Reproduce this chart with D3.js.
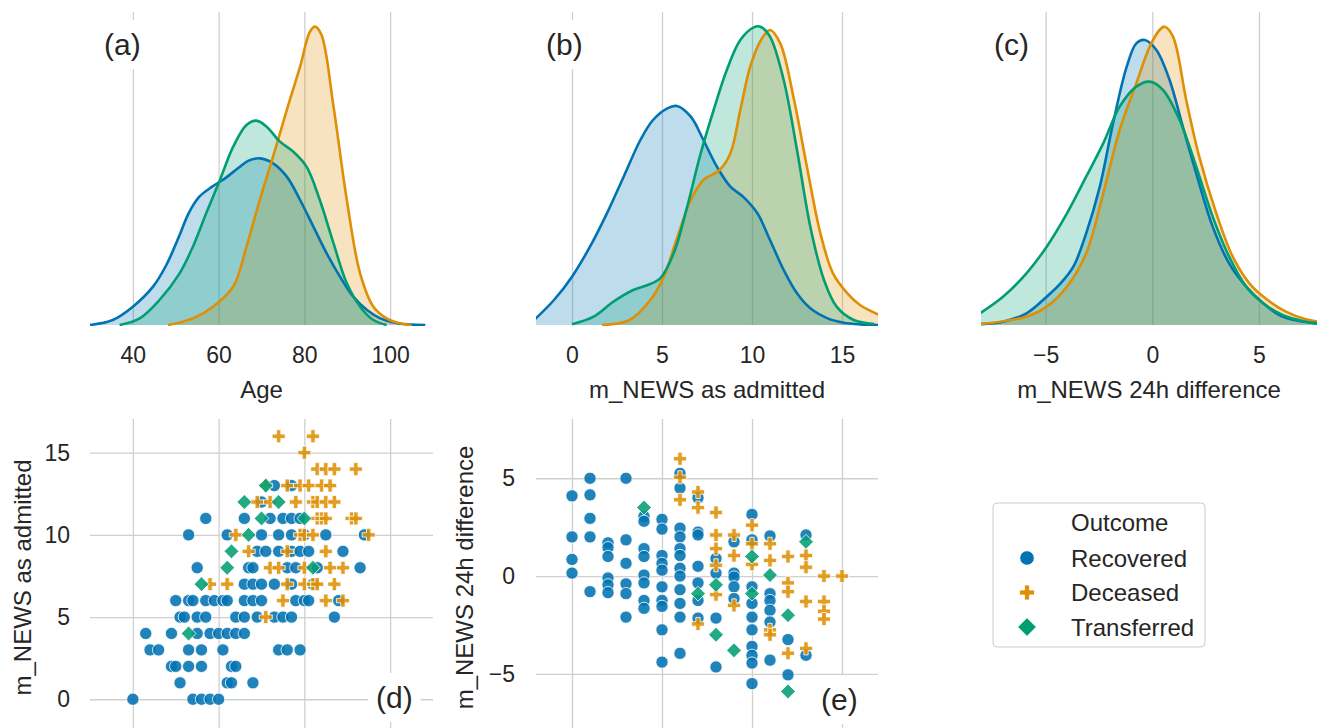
<!DOCTYPE html>
<html>
<head>
<meta charset="utf-8">
<script src="https://cdn.jsdelivr.net/npm/d3@7"></script>
<style>
  body { margin: 0; background: #fff; }
  text { font-family: "Liberation Sans", Arial, sans-serif; fill: #262626; }
</style>
</head>
<body>
<svg id="chart" width="1317" height="728"></svg>
<script>
// ---- data ----
const outcomes = ['Recovered', 'Deceased', 'Transferred'];

// KDE curves, [value, density]
const ageKdeRecovered = [[30,0],[35.3,0.015],[40,0.055],[44.7,0.115],[47.8,0.18],[50.9,0.27],[53,0.335],[55.5,0.385],[58.5,0.415],[61.5,0.44],[64.5,0.47],[67,0.493],[69.6,0.5],[72.7,0.485],[75.9,0.445],[79,0.375],[82.1,0.295],[85.2,0.215],[88.3,0.145],[91.4,0.085],[94.6,0.045],[97.7,0.02],[101.6,0.005],[108.2,0]];
const ageKdeDeceased = [[48.2,0],[54,0.02],[58.7,0.055],[63.4,0.115],[66.5,0.235],[69.6,0.375],[72.7,0.505],[75.9,0.645],[79,0.775],[81.3,0.88],[82.5,0.895],[84,0.87],[86.8,0.655],[89.9,0.375],[93,0.155],[96.1,0.055],[99.2,0.02],[102.3,0.005],[105,0]];
const ageKdeTransferred = [[36.9,0],[41.6,0.02],[46.2,0.075],[50.9,0.155],[54,0.235],[57.1,0.335],[60.3,0.435],[63.4,0.535],[66.5,0.6],[68.8,0.613],[71.2,0.595],[74.3,0.55],[77.4,0.52],[80.5,0.475],[83.6,0.375],[86.8,0.245],[89.9,0.125],[93,0.055],[96.1,0.015],[99.2,0]];

const newsKdeRecovered = [[-2.3,0.005],[-1,0.075],[0,0.145],[1,0.235],[1.94,0.335],[2.87,0.445],[3.8,0.555],[4.5,0.615],[5.3,0.65],[5.83,0.657],[6.6,0.625],[7.3,0.555],[8.05,0.475],[8.8,0.415],[9.5,0.385],[10.3,0.335],[11,0.255],[11.76,0.165],[12.5,0.095],[13.24,0.05],[14.2,0.02],[15.1,0.007],[16,0.002],[17.2,0]];
const newsKdeDeceased = [[1.67,0],[3.2,0.015],[4.35,0.075],[5.1,0.145],[5.8,0.255],[6.6,0.375],[7.3,0.435],[8.2,0.465],[8.8,0.515],[9.35,0.645],[9.9,0.775],[10.5,0.855],[11,0.885],[11.57,0.845],[12.3,0.685],[13.05,0.475],[13.8,0.275],[14.5,0.155],[15.3,0.095],[16,0.06],[17.2,0.027]];
const newsKdeTransferred = [[0,0.002],[1.2,0.025],[2.3,0.07],[3.4,0.105],[4.2,0.12],[4.9,0.14],[5.65,0.215],[6.4,0.355],[7.1,0.505],[7.87,0.645],[8.6,0.765],[9.35,0.855],[10.1,0.893],[10.46,0.895],[11,0.865],[11.76,0.735],[12.5,0.525],[13.24,0.295],[14,0.135],[14.7,0.055],[15.65,0.015],[16.8,0.003]];

const diffKdeRecovered = [[-8.2,0.002],[-7,0.01],[-5.9,0.035],[-4.95,0.085],[-4.3,0.125],[-3.7,0.175],[-3.1,0.275],[-2.46,0.415],[-1.84,0.605],[-1.2,0.775],[-0.75,0.845],[-0.36,0.855],[0.19,0.825],[0.81,0.735],[1.43,0.595],[2.06,0.455],[2.83,0.295],[3.6,0.185],[4.4,0.115],[5.2,0.065],[6.1,0.025],[7.9,0.003]];
const diffKdeDeceased = [[-8.2,0.002],[-5.9,0.025],[-4.95,0.055],[-4,0.115],[-3.1,0.215],[-2.3,0.395],[-1.53,0.585],[-0.75,0.725],[-0.12,0.835],[0.34,0.885],[0.58,0.895],[0.97,0.865],[1.59,0.675],[2.2,0.505],[3,0.335],[3.77,0.205],[4.55,0.125],[5.3,0.08],[6.26,0.04],[7.2,0.017],[7.9,0.009]];
const diffKdeTransferred = [[-8.2,0.03],[-7,0.085],[-5.9,0.155],[-4.95,0.235],[-4,0.335],[-3.1,0.445],[-2.3,0.545],[-1.53,0.655],[-0.75,0.715],[-0.12,0.73],[0.5,0.705],[1.28,0.615],[2.06,0.475],[2.83,0.325],[3.6,0.205],[4.4,0.115],[5.2,0.065],[6.1,0.03],[7.2,0.01],[7.9,0.005]];

// scatter (d): [age, m_NEWS as admitted]
const ageNewsRecovered = [[73,13],[77,13],[70,12],
  [57,11],[66,11],[72,11],[75,11],[77,11],[79,11],
  [53,10],[62,10],[70,10],[74,10],[77,10],[80,10],[85,10],[94,10],
  [69,9],[71,9],[74,9],[77,9],[79,9],[81,9],[89,9],
  [55,8],[67,8],[68,8],[76,8],[78,8],[83,8],[93,8],
  [66,7],[68,7],[70,7],[73,7],[77,7],[82,7],
  [50,6],[53,6],[54,6],[57,6],[59,6],[61,6],[62,6],[66,6],[68,6],[70,6],[78,6],[80,6],[81,6],[88,6],
  [51,5],[52,5],[55,5],[57,5],[64,5],[66,5],[69,5],[73,5],[75,5],[77,5],[87,5],
  [43,4],[49,4],[55,4],[58,4],[60,4],[62,4],[64,4],[66,4],
  [44,3],[46,3],[53,3],[56,3],[61,3],[74,3],[76,3],[79,3],
  [49,2],[50,2],[53,2],[56,2],[63,2],[64,2],
  [51,1],[62,1],[63,1],[68,1],
  [40,0],[54,0],[56,0],[58,0],[60,0]];
const ageNewsDeceased = [[74,16],[82,16],[80,15],[83,14],[85,14],[87,14],[92,14],
  [71,13],[76,13],[79,13],[81,13],[84,13],[86,13],
  [69,12],[72,12],[78,12],[82,12],[83,12],[85,12],[87,12],
  [83,11],[84,11],[85,11],[91,11],[92,11],
  [64,10],[79,10],[80,10],[82,10],[95,10],
  [67,9],[76,9],[85,9],
  [72,8],[74,8],[80,8],[86,8],[89,8],
  [58,7],[62,7],[76,7],[80,7],[82,7],[83,7],[87,7],
  [75,6],[85,6],[89,6],[71,5]];
const ageNewsTransferred = [[71,13],[66,12],[74,12],[70,11],[80,11],[67,10],[63,9],[62,8],[82,8],[56,7],[53,4]];

// scatter (e): [m_NEWS as admitted, m_NEWS 24h difference]
const newsDiffRecovered = [[0,4.1],[0,2.0],[0,0.85],[0,0.15],
  [1,5],[1,4.15],[1,2.95],[1,2.0],[1,-0.8],
  [2,1.7],[2,1.45],[2,1.0],[2,-0.1],[2,-0.45],[2,-0.85],
  [3,5],[3,1.85],[3,0.65],[3,-0.4],[3,-0.9],[3,-2.1],
  [4,3.05],[4,2.8],[4,1.4],[4,1.0],[4,0.05],[4,-0.35],[4,-1.25],[4,-1.65],
  [5,2.9],[5,2.4],[5,1.05],[5,0.65],[5,0.3],[5,-0.55],[5,-1.25],[5,-1.55],[5,-2.75],[5,-4.4],
  [6,5.25],[6,4.5],[6,2.45],[6,2.0],[6,1.4],[6,1.05],[6,0.4],[6,0],[6,-0.7],[6,-1.4],[6,-2.1],[6,-3.95],
  [7,4.0],[7,2.25],[7,2.1],[7,0.5],[7,-0.35],[7,-1.25],[7,-2.15],
  [8,0.9],[8,0.15],[8,-2.15],[8,-4.65],
  [9,1.75],[9,0.15],[9,-0.05],[9,-0.55],[9,-1.15],
  [10,3.15],[10,1.85],[10,-0.55],[10,-1.4],[10,-2.1],[10,-2.75],[10,-3.6],[10,-4.05],[10,-4.45],[10,-5.5],
  [11,2.05],[11,-0.9],[11,-1.25],[11,-1.75],[11,-2.35],[11,-4.3],
  [12,-3.25],[12,-5.05],[13,2.1],[13,-4.05]];
const newsDiffDeceased = [[6,6.0],[6,5.05],[6,3.9],[7,4.3],[7,3.5],[7,-2.45],[8,3.25],[8,2.1],[8,1.4],[8,0.55],[8,-0.95],
  [9,2.1],[9,1.05],[9,-1.5],[10,2.6],[10,1.65],[10,0.6],[11,1.65],[11,0.8],[11,-2.75],[11,-3.0],
  [12,1.0],[12,-0.35],[12,-0.8],[12,-3.95],[13,1.05],[13,0.45],[13,-1.3],[13,-3.7],
  [14,0],[14,-1.3],[14,-1.8],[14,-2.2],[15,0]];
const newsDiffTransferred = [[4,3.5],[7,-0.9],[8,-0.45],[8,-3.0],[9,-3.8],[10,1.0],[10,-0.9],[11,0.05],[12,-2.0],[12,-5.9],[13,1.75]];

const ageTicks = [40, 60, 80, 100];
const newsTicks = [0, 5, 10, 15];
const diffTicks = [-5, 0, 5];

// ---- styling ----
const colors = {Recovered: '#0173b2', Deceased: '#de8f05', Transferred: '#029e73'};
const gridColor = '#cfcfcf';
const svg = d3.select('#chart');
const fmt = d3.format('d');

const diamond = {
  draw(ctx, size) {
    const r = Math.sqrt(size / 2);
    ctx.moveTo(0, -r); ctx.lineTo(r, 0); ctx.lineTo(0, r); ctx.lineTo(-r, 0); ctx.closePath();
  }
};
const symbols = {Recovered: d3.symbolCircle, Deceased: d3.symbolCross, Transferred: diamond};
const symbolSize = {Recovered: 118, Deceased: 95, Transferred: 110};

function panelLabel(txt, x, y) {
  const t = svg.append('text').attr('x', x).attr('y', y).attr('font-size', 30).text(txt);
  const bb = t.node().getBBox();
  svg.insert('rect', () => t.node())
      .attr('x', bb.x - 8).attr('y', bb.y - 8)
      .attr('width', bb.width + 16).attr('height', bb.height + 16)
      .attr('fill', '#fff');
}

function kdePanel(cfg) {
  const top = 12, bottom = 325;
  const x = d3.scaleLinear().domain(cfg.xDomain).range([cfg.left, cfg.right]);
  const y = d3.scaleLinear().domain([0, 0.939]).range([bottom, top]);
  const g = svg.append('g');

  const xAxisG = g.append('g')
      .attr('transform', `translate(0,${bottom})`)
      .call(d3.axisBottom(x).tickValues(cfg.ticks).tickSize(-(bottom - top)).tickPadding(22).tickFormat(fmt));
  xAxisG.select('.domain').remove();
  xAxisG.selectAll('line').attr('stroke', gridColor).attr('stroke-width', 1.3);
  xAxisG.selectAll('text').attr('font-size', 23).attr('fill', '#262626')
      .attr('font-family', '"Liberation Sans", Arial, sans-serif');

  const clipId = 'clip-' + cfg.id;
  g.append('clipPath').attr('id', clipId).append('rect')
      .attr('x', cfg.left).attr('y', 0).attr('width', cfg.right - cfg.left).attr('height', bottom + 1);
  const marks = g.append('g').attr('clip-path', `url(#${clipId})`);

  const area = d3.area().x(d => x(d[0])).y0(y(0)).y1(d => y(d[1])).curve(d3.curveCatmullRom.alpha(0.5));
  const line = d3.line().x(d => x(d[0])).y(d => y(d[1])).curve(d3.curveCatmullRom.alpha(0.5));

  // fills first, outlines on top
  outcomes.forEach((o, i) => {
    marks.append('path').datum(cfg.series[i])
        .attr('d', area).attr('fill', colors[o]).attr('fill-opacity', 0.25);
  });
  outcomes.forEach((o, i) => {
    marks.append('path').datum(cfg.series[i])
        .attr('d', line).attr('fill', 'none').attr('stroke', colors[o]).attr('stroke-width', 2.6);
  });

  g.append('text').attr('x', (cfg.left + cfg.right) / 2).attr('y', 398)
      .attr('text-anchor', 'middle').attr('font-size', 24).text(cfg.label);
}

function scatterPanel(cfg) {
  const top = 419, bottom = 728;
  const x = d3.scaleLinear().domain(cfg.xDomain).range([cfg.left, cfg.right]);
  const y = d3.scaleLinear().domain(cfg.yDomain).range([bottom, top]);
  const g = svg.append('g');

  const xAxisG = g.append('g')
      .attr('transform', `translate(0,${bottom})`)
      .call(d3.axisBottom(x).tickValues(cfg.xTicks).tickSize(-(bottom - top)).tickFormat(''));
  xAxisG.select('.domain').remove();
  xAxisG.selectAll('line').attr('stroke', gridColor).attr('stroke-width', 1.3);

  const yAxisG = g.append('g')
      .attr('transform', `translate(${cfg.left},0)`)
      .call(d3.axisLeft(y).tickValues(cfg.yTicks).tickSize(-(cfg.right - cfg.left)).tickPadding(cfg.pad).tickFormat(fmt));
  yAxisG.select('.domain').remove();
  yAxisG.selectAll('line').attr('stroke', gridColor).attr('stroke-width', 1.3);
  yAxisG.selectAll('text').attr('font-size', 23).attr('fill', '#262626')
      .attr('font-family', '"Liberation Sans", Arial, sans-serif');

  const clipId = 'clip-' + cfg.id;
  g.append('clipPath').attr('id', clipId).append('rect')
      .attr('x', cfg.left).attr('y', top).attr('width', cfg.right - cfg.left).attr('height', bottom - top);
  const marks = g.append('g').attr('clip-path', `url(#${clipId})`);

  outcomes.forEach((o, i) => {
    marks.selectAll('.pt-' + o).data(cfg.series[i]).join('path')
        .attr('class', 'pt-' + o)
        .attr('transform', d => `translate(${x(d[0])},${y(d[1])})`)
        .attr('d', d3.symbol(symbols[o], symbolSize[o]))
        .attr('fill', colors[o]).attr('fill-opacity', 0.88)
        .attr('stroke', '#fff').attr('stroke-width', 0.8);
  });

  g.append('text')
      .attr('transform', `translate(${cfg.labelX},${(top + bottom) / 2 + 4}) rotate(-90)`)
      .attr('text-anchor', 'middle').attr('font-size', 24).text(cfg.label);
}

kdePanel({id: 'a', left: 90, right: 433, xDomain: [30, 110], ticks: ageTicks, label: 'Age',
  series: [ageKdeRecovered, ageKdeDeceased, ageKdeTransferred]});
kdePanel({id: 'b', left: 536, right: 878, xDomain: [-2, 17], ticks: newsTicks, label: 'm_NEWS as admitted',
  series: [newsKdeRecovered, newsKdeDeceased, newsKdeTransferred]});
kdePanel({id: 'c', left: 981, right: 1317, xDomain: [-8.03, 7.72], ticks: diffTicks, label: 'm_NEWS 24h difference',
  series: [diffKdeRecovered, diffKdeDeceased, diffKdeTransferred]});

scatterPanel({id: 'd', left: 90, right: 433, xDomain: [30, 110], yDomain: [-1.75, 17.05],
  xTicks: ageTicks, yTicks: [0, 5, 10, 15], pad: 20, labelX: 31, label: 'm_NEWS as admitted',
  series: [ageNewsRecovered, ageNewsDeceased, ageNewsTransferred]});
scatterPanel({id: 'e', left: 536, right: 878, xDomain: [-2, 17], yDomain: [-7.77, 8.03],
  xTicks: newsTicks, yTicks: diffTicks, pad: 21, labelX: 473, label: 'm_NEWS 24h difference',
  series: [newsDiffRecovered, newsDiffDeceased, newsDiffTransferred]});

panelLabel('(a)', 104, 55);
panelLabel('(b)', 546, 55);
panelLabel('(c)', 994, 55);
panelLabel('(d)', 376, 708);
panelLabel('(e)', 821, 710);

// legend
const legend = svg.append('g');
legend.append('rect').attr('x', 993).attr('y', 503).attr('width', 212).attr('height', 144)
    .attr('rx', 4).attr('fill', '#fff').attr('stroke', '#cccccc').attr('stroke-width', 1);
legend.append('text').attr('x', 1071).attr('y', 531).attr('font-size', 24).text('Outcome');
const legendSize = {Recovered: 165, Deceased: 125, Transferred: 175};
outcomes.forEach((o, i) => {
  const cy = 558 + i * 34.5;
  legend.append('path')
      .attr('transform', `translate(1027,${cy})`)
      .attr('d', d3.symbol(symbols[o], legendSize[o]))
      .attr('fill', colors[o]).attr('stroke', '#fff').attr('stroke-width', 0.8);
  legend.append('text').attr('x', 1071).attr('y', cy + 8.5).attr('font-size', 24).text(o);
});
</script>
</body>
</html>
